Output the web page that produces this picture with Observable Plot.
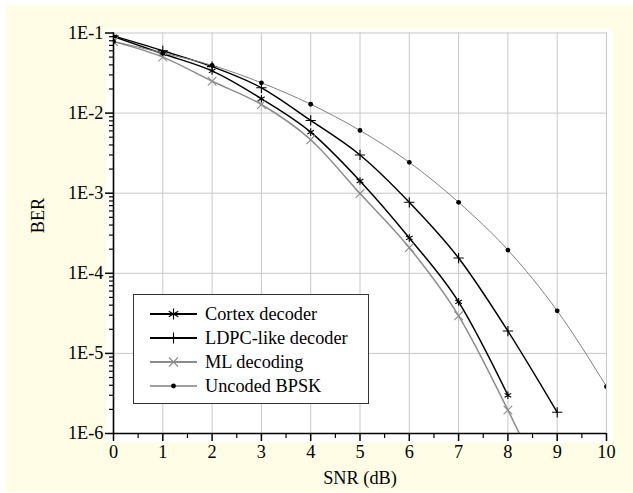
<!DOCTYPE html>
<html>
<head>
<meta charset="utf-8">
<script src="https://cdn.jsdelivr.net/npm/d3@7"></script>
<script src="https://cdn.jsdelivr.net/npm/@observablehq/plot@0.6"></script>
<style>
  html, body { margin: 0; padding: 0; background: #ffffff; }
  #wrap { position: relative; width: 633px; height: 493px; overflow: hidden; font-family: "Liberation Serif", "Times New Roman", serif; }
  #bg { position: absolute; left: 6px; top: 5px; right: 0; bottom: 1px; background: #fffde6; }
  #chart { position: absolute; left: 0; top: 0; }
  #legend { position: absolute; left: 133px; top: 294px; width: 234px; height: 108px; border: 1px solid #333; background: #fff; font-size: 18.3px; }
  .row { position: absolute; left: 0; height: 24px; display: flex; align-items: center; }
  .row svg { margin-left: 16px; }
  .row span { margin-left: 8px; color: #000; white-space: nowrap; }
</style>
</head>
<body>
<div id="wrap"><div id="bg"></div><div id="chart"></div><div id="legend"></div></div>
<script>
// ---- data ----
const snr = [0, 1, 2, 3, 4, 5, 6, 7, 8, 9, 10];
const cortex = [0.09, 0.055, 0.0336, 0.0151, 0.00578, 0.00142, 0.000276, 4.4e-5, 3.0e-6];
const ldpc = [0.092, 0.06, 0.038, 0.0207, 0.0081, 0.0030, 0.00077, 1.55e-4, 1.9e-5, 1.84e-6];
const ml = [0.078, 0.05, 0.025, 0.0128, 0.00465, 0.00099, 0.000209, 2.95e-5, 1.96e-6, 1.0e-7];
const bpsk = [0.0786, 0.0563, 0.0395, 0.0239, 0.0129, 0.00607, 0.00243, 7.7e-4, 1.95e-4, 3.4e-5, 3.85e-6];
const seriesNames = ["Cortex decoder", "LDPC-like decoder", "ML decoding", "Uncoded BPSK"];
const xTicks = [0, 1, 2, 3, 4, 5, 6, 7, 8, 9, 10];
const yTicks = [1e-1, 1e-2, 1e-3, 1e-4, 1e-5, 1e-6];
const xLabel = "SNR (dB)";
const yLabel = "BER";

// ---- styles ----
const FS = 18.3;
const styles = [
  {stroke: "#000", width: 1.5, symbol: "asterisk", mstroke: "#000", fill: "none", r: 3.6},
  {stroke: "#000", width: 1.5, symbol: "plus", mstroke: "#000", fill: "none", r: 3.4},
  {stroke: "#8c8c8c", width: 1.5, symbol: "times", mstroke: "#8c8c8c", fill: "none", r: 4},
  {stroke: "#808080", width: 1, symbol: "circle", mstroke: "none", fill: "#000", r: 2.4}
];

const allSeries = [cortex, ldpc, ml, bpsk];
const rows = [];
allSeries.forEach((vals, i) => vals.forEach((v, j) => rows.push({s: seriesNames[i], x: snr[j], y: v})));

const minorY = [];
for (let e = -6; e <= -2; e++) for (let k = 2; k <= 9; k++) minorY.push(k * Math.pow(10, e));
const minorX = xTicks.slice(0, -1).map(d => d + 0.5);
const fmt = d => "1E" + Math.round(Math.log10(d));

const marks = [
  Plot.frame({fill: "white", stroke: "none", insetLeft: -8, insetRight: -6, insetTop: -4.5, insetBottom: -9}),
  Plot.gridX(xTicks.slice(1), {stroke: "#c8c8c8", strokeOpacity: 1, strokeWidth: 1}),
  Plot.gridY(yTicks.slice(0, -1), {stroke: "#c8c8c8", strokeOpacity: 1, strokeWidth: 1})
];
seriesNames.forEach((name, i) => {
  const st = styles[i];
  const data = rows.filter(d => d.s === name);
  marks.push(Plot.line(data, {x: "x", y: "y", stroke: st.stroke, strokeWidth: st.width, curve: "monotone-x", clip: true}));
  marks.push(Plot.dot(data, {x: "x", y: "y", symbol: () => st.symbol, r: st.r, stroke: st.mstroke, fill: st.fill, strokeWidth: 1.1, clip: true}));
});
marks.push(
  Plot.ruleX([0], {stroke: "#000", strokeWidth: 1.6}),
  Plot.ruleY([1e-6], {stroke: "#000", strokeWidth: 1.6}),
  Plot.axisY(yTicks, {tickSize: 8, tickPadding: 2, tickFormat: fmt, fontSize: FS, stroke: "#000", strokeWidth: 1.5, label: null, fill: "#000"}),
  Plot.axisY(minorY, {tickSize: 4, tickFormat: () => "", stroke: "#000", strokeWidth: 1.2, label: null}),
  Plot.axisX(xTicks, {tickSize: 8, tickPadding: 3, fontSize: FS, stroke: "#000", strokeWidth: 1.5, label: null, fill: "#000"}),
  Plot.axisX(minorX, {tickSize: 5, tickFormat: () => "", stroke: "#000", strokeWidth: 1.2, label: null}),
  Plot.text([yLabel], {text: d => d, frameAnchor: "left", dx: -75, rotate: -90, fontSize: FS, fill: "#000"}),
  Plot.text([xLabel], {text: d => d, frameAnchor: "bottom", dy: 45, fontSize: FS, fill: "#000", lineAnchor: "middle"})
);

const plot = Plot.plot({
  width: 633,
  height: 493,
  marginLeft: 113,
  marginRight: 27,
  marginTop: 32.5,
  marginBottom: 60,
  style: {background: "transparent", fontFamily: "'Liberation Serif', 'Times New Roman', serif", fontSize: FS + "px", color: "#000"},
  x: {domain: [0, 10]},
  y: {type: "log", domain: [1e-6, 1e-1]},
  marks
});
document.getElementById("chart").appendChild(plot);

// ---- legend ----
const legend = document.getElementById("legend");
const symPaths = {
  asterisk: "M0,-5.5V5.5M-4.8,-2.75L4.8,2.75M-4.8,2.75L4.8,-2.75",
  plus: "M0,-5.5V5.5M-5.5,0H5.5",
  times: "M-4.5,-4.5L4.5,4.5M-4.5,4.5L4.5,-4.5"
};
seriesNames.forEach((name, i) => {
  const st = styles[i];
  const row = document.createElement("div");
  row.className = "row";
  row.style.top = (7 + i * 24) + "px";
  let marker = st.symbol === "circle"
    ? `<circle cx="23.5" cy="12" r="${st.r}" fill="${st.fill}"/>`
    : `<path transform="translate(23.5,12)" d="${symPaths[st.symbol]}" stroke="${st.mstroke}" stroke-width="1.1" fill="none"/>`;
  row.innerHTML = `<svg width="47" height="24"><line x1="0" x2="47" y1="12" y2="12" stroke="${st.stroke}" stroke-width="${st.width + 0.5}"/>${marker}</svg><span>${name}</span>`;
  legend.appendChild(row);
});
</script>
</body>
</html>
